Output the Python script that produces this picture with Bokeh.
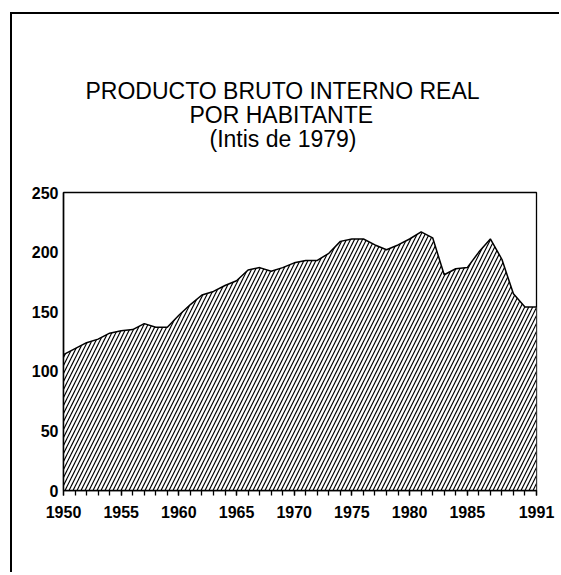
from bokeh.plotting import figure
from bokeh.models import Range1d, FixedTicker, Title
from bokeh.embed import file_html
from bokeh.resources import INLINE

# ---- data ----
years = list(range(1950, 1992))
pbi_per_capita = [114, 119, 124, 127, 132, 134, 135, 140, 137, 137,
                  147, 156, 164, 167, 172, 176, 185, 187, 184, 187,
                  191, 193, 193, 199, 209, 211, 211, 206, 202, 206,
                  211, 217, 212, 181, 186, 187, 200, 211, 194, 165,
                  154, 154]
x_label_years = [1950, 1955, 1960, 1965, 1970, 1975, 1980, 1985, 1991]
y_ticks = [0, 50, 100, 150, 200, 250]
title_lines = ["PRODUCTO BRUTO INTERNO REAL", "POR HABITANTE", "(Intis de 1979)"]

FONT = "Liberation Sans"

p = figure(width=549, height=560, output_backend="svg", toolbar_location=None,
           x_range=Range1d(years[0], years[-1]), y_range=Range1d(0, 250),
           min_border_left=51, min_border_right=25,
           min_border_top=178, min_border_bottom=84)
p.styles = {"border-left": "2px solid black", "border-top": "2px solid black",
            "margin-left": "10px", "margin-top": "12px"}

p.background_fill_color = "white"
p.border_fill_color = "white"
p.outline_line_color = "black"
p.outline_line_width = 1.3
p.xgrid.grid_line_color = None
p.ygrid.grid_line_color = None

# hatched area + outline
p.varea(x=years, y1=[0] * len(years), y2=pbi_per_capita,
        fill_color="white", hatch_pattern="/", hatch_color="black",
        hatch_scale=8, hatch_weight=1.2)
p.line(years, pbi_per_capita, line_color="black", line_width=1.5)

# x axis
xa = p.xaxis[0]
xa.ticker = FixedTicker(ticks=x_label_years, minor_ticks=years)
xa.major_tick_in = 0
xa.major_tick_out = 5
xa.minor_tick_in = 0
xa.minor_tick_out = 5
xa.major_tick_line_color = "black"
xa.minor_tick_line_color = "black"
xa.major_tick_line_width = 1.3
xa.minor_tick_line_width = 1.3
xa.axis_line_color = "black"
xa.axis_line_width = 1.5
xa.major_label_text_font = FONT
xa.major_label_text_font_style = "bold"
xa.major_label_text_font_size = "16px"
xa.major_label_text_color = "black"
xa.major_label_standoff = 10

# y axis
ya = p.yaxis[0]
ya.ticker = FixedTicker(ticks=y_ticks)
ya.major_tick_in = 0
ya.major_tick_out = 0
ya.minor_tick_in = 0
ya.minor_tick_out = 0
ya.axis_line_color = "black"
ya.axis_line_width = 1.5
ya.major_label_text_font = FONT
ya.major_label_text_font_style = "bold"
ya.major_label_text_font_size = "16px"
ya.major_label_text_color = "black"
ya.major_label_standoff = 5

# title: stacked Titles in the "above" panel (first added = nearest the frame)
p.add_layout(Title(text=" ", text_font=FONT, text_font_size="22px",
                   standoff=16), "above")
title_offsets = {title_lines[0]: 22, title_lines[1]: 126, title_lines[2]: 146}
for txt in reversed(title_lines):
    p.add_layout(Title(text=txt, align="left", offset=title_offsets[txt],
                       text_font=FONT, text_font_size="23px",
                       text_font_style="normal", text_color="black",
                       standoff=-4), "above")

open("out.html", "w").write(file_html(p, INLINE))
